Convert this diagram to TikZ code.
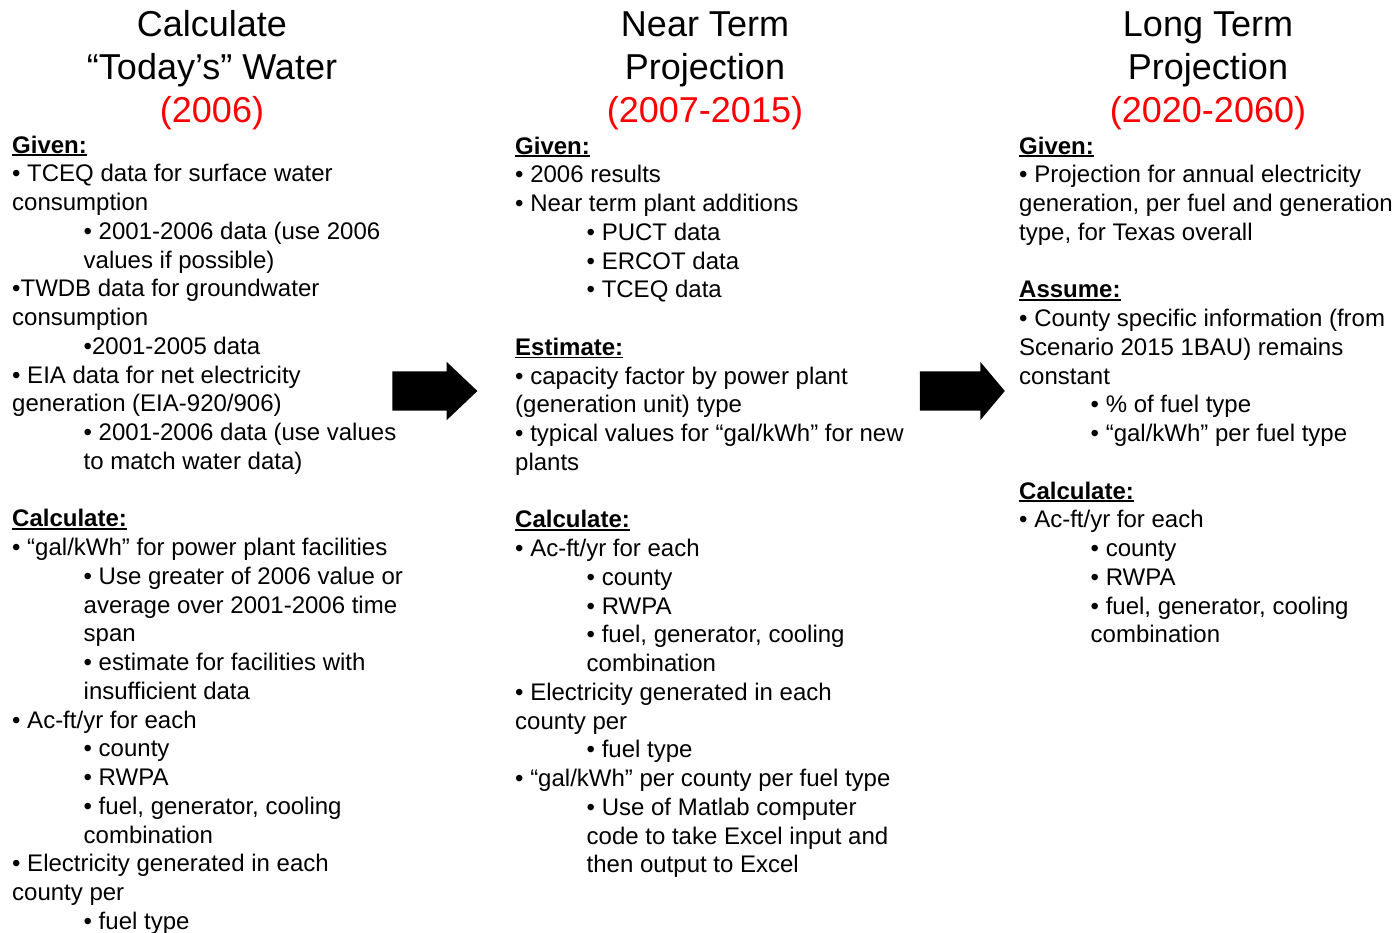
\documentclass[tikz,border=0pt]{standalone}
\usepackage{fontspec}
\setmainfont{Liberation Sans}
\usetikzlibrary{positioning, shapes.arrows}
\definecolor{clrtext}{HTML}{000000}
\definecolor{clryear}{HTML}{FF0000}
\definecolor{clrarrow}{HTML}{000000}
\newcommand{\ulhead}[1]{\textbf{\vtop{\hbox{#1}\kern1pt\hrule height 1.8pt}}}
\newcommand{\ind}{\hspace*{71.5pt}}
\newcommand{\firstline}{\rule{0pt}{20pt}}

\begin{document}
\begin{tikzpicture}[
    x=1pt, y=-1pt,
    title/.style={anchor=north, align=center, inner sep=0, text=clrtext,
                  font=\fontsize{36}{43}\selectfont},
    body/.style={anchor=north west, align=left, inner sep=0, text=clrtext,
                 font=\fontsize{24}{28.75}\selectfont},
    bigarrow/.style={single arrow, fill=clrarrow, draw=none, inner sep=0,
                     text height=39pt, text depth=0pt, minimum height=85pt,
                     single arrow head extend=9.5pt},
]
\useasboundingbox (0,0) rectangle (1395,932);
% column titles
\node[title] (t_1) at (212,5) {\rule{0pt}{31pt}Calculate\\“Today’s” Water\\\textcolor{clryear}{(2006)}};
\node[title] (t_2) at (705,5) {\rule{0pt}{31pt}Near Term\\Projection\\\textcolor{clryear}{(2007-2015)}};
\node[title] (t_3) at (1208,5) {\rule{0pt}{31pt}Long Term\\Projection\\\textcolor{clryear}{(2020-2060)}};
% column bodies
\node[body] (b_1) at (12,133) {\firstline\ulhead{Given:}\\
• TCEQ data for surface water\\
consumption\\
\ind• 2001-2006 data (use 2006\\
\ind values if possible)\\
•TWDB data for groundwater\\
consumption\\
\ind•2001-2005 data\\
• EIA data for net electricity\\
generation (EIA-920/906)\\
\ind• 2001-2006 data (use values\\
\ind to match water data)\\[28.75pt]
\ulhead{Calculate:}\\
• “gal/kWh” for power plant facilities\\
\ind• Use greater of 2006 value or\\
\ind average over 2001-2006 time\\
\ind span\\
\ind• estimate for facilities with\\
\ind insufficient data\\
• Ac-ft/yr for each\\
\ind• county\\
\ind• RWPA\\
\ind• fuel, generator, cooling\\
\ind combination\\
• Electricity generated in each\\
county per\\
\ind• fuel type};
\node[body] (b_2) at (515,134) {\firstline\ulhead{Given:}\\
• 2006 results\\
• Near term plant additions\\
\ind• PUCT data\\
\ind• ERCOT data\\
\ind• TCEQ data\\[28.75pt]
\ulhead{Estimate:}\\
• capacity factor by power plant\\
(generation unit) type\\
• typical values for “gal/kWh” for new\\
plants\\[28.75pt]
\ulhead{Calculate:}\\
• Ac-ft/yr for each\\
\ind• county\\
\ind• RWPA\\
\ind• fuel, generator, cooling\\
\ind combination\\
• Electricity generated in each\\
county per\\
\ind• fuel type\\
• “gal/kWh” per county per fuel type\\
\ind• Use of Matlab computer\\
\ind code to take Excel input and\\
\ind then output to Excel};
\node[body] (b_3) at (1019,134) {\firstline\ulhead{Given:}\\
• Projection for annual electricity\\
generation, per fuel and generation\\
type, for Texas overall\\[28.75pt]
\ulhead{Assume:}\\
• County specific information (from\\
Scenario 2015 1BAU) remains\\
constant\\
\ind• \% of fuel type\\
\ind• “gal/kWh” per fuel type\\[28.75pt]
\ulhead{Calculate:}\\
• Ac-ft/yr for each\\
\ind• county\\
\ind• RWPA\\
\ind• fuel, generator, cooling\\
\ind combination};
% block arrows between columns
\node[bigarrow, single arrow tip angle=87] (a_1) at (424.5,391) {};
\node[bigarrow, single arrow tip angle=100] (a_2) at (954,391) {};
\end{tikzpicture}
\end{document}
